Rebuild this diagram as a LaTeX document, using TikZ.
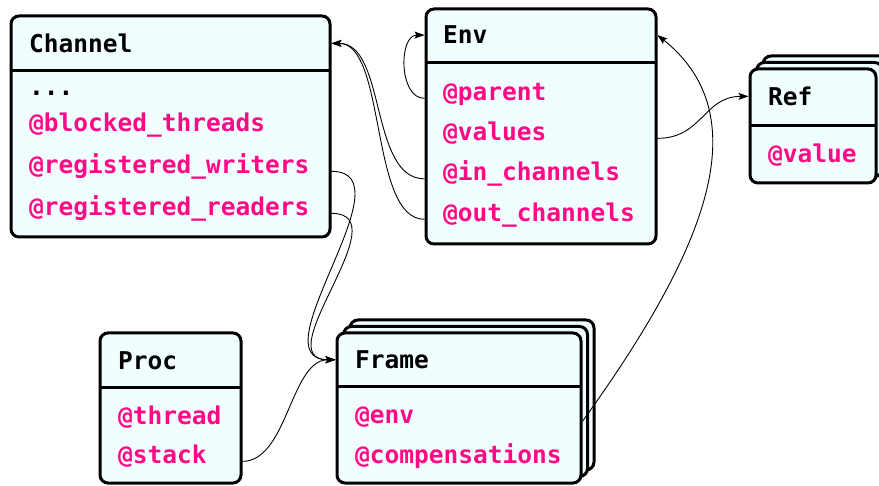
\documentclass[tikz,border=0pt]{standalone}
\usepackage{fontspec}
\setmonofont{DejaVu Sans Mono}
\usetikzlibrary{arrows.meta}
\definecolor{boxfill}{HTML}{F0FEFF}
\definecolor{fieldpink}{HTML}{FF0A84}
\begin{document}
\begin{tikzpicture}[x=1pt,y=-1pt,
  umlbox/.style={draw=black, line width=3pt, fill=boxfill, rounded corners=8pt, inner sep=0pt},
  divider/.style={line width=3pt},
  title/.style={anchor=base west, inner sep=0pt, font=\ttfamily\bfseries\fontsize{24.5}{29}\selectfont, text=black},
  field/.style={title, text=fieldpink},
  link/.style={line width=0.9pt, -{Stealth[length=10pt,width=7pt,inset=2pt]}},
]
\useasboundingbox (0,0) rectangle (879,486);
\clip (0,0) rectangle (879,486);

% Channel
\node[umlbox, minimum width=319pt, minimum height=221pt] (chan) at (170.5,126.5) {};
\draw[divider] (11,71) -- (330,71);
\node[title] (chantitle) at (29,52.5) {Channel};
\node[title] (chandots) at (29,96) {...};
\node[field] (chanblocked) at (29,132) {@blocked\_threads};
\node[field] (chanwriters) at (29,173.5) {@registered\_writers};
\node[field] (chanreaders) at (29,215.5) {@registered\_readers};

% Env
\node[umlbox, minimum width=230pt, minimum height=235pt] (env) at (541,126.5) {};
\draw[divider] (426,63) -- (656,63);
\node[title] (envtitle) at (443,44) {Env};
\node[field] (envparent) at (443,100.5) {@parent};
\node[field] (envvalues) at (443,140.5) {@values};
\node[field] (envin) at (443,181) {@in\_channels};
\node[field] (envout) at (443,221.5) {@out\_channels};

% Ref (stacked)
\node[umlbox, minimum width=126pt, minimum height=114pt] (refbb) at (826,113) {};
\node[umlbox, minimum width=126pt, minimum height=114pt] (refb) at (819.5,119.5) {};
\node[umlbox, minimum width=126pt, minimum height=114pt] (ref) at (813,126) {};
\draw[divider] (750,126) -- (876,126);
\node[title] (reftitle) at (768,105.5) {Ref};
\node[field] (refvalue) at (768,162.5) {@value};

% Proc
\node[umlbox, minimum width=141pt, minimum height=150pt] (proc) at (170.5,408) {};
\draw[divider] (100,388) -- (241,388);
\node[title] (proctitle) at (118,369.5) {Proc};
\node[field] (procthread) at (118,424.5) {@thread};
\node[field] (procstack) at (118,463.5) {@stack};

% Frame (stacked)
\node[umlbox, minimum width=244pt, minimum height=150pt] (framebb) at (472,395) {};
\node[umlbox, minimum width=244pt, minimum height=150pt] (frameb) at (465.5,401.5) {};
\node[umlbox, minimum width=244pt, minimum height=150pt] (frame) at (459,408) {};
\draw[divider] (337,387) -- (581,387);
\node[title] (frametitle) at (355,368.5) {Frame};
\node[field] (frameenv) at (355,423.5) {@env};
\node[field] (framecomp) at (355,463.5) {@compensations};

% Connectors
\draw[link] (envparent.mid -| env.west) .. controls +(-26,0) and +(-26,0) .. (envtitle.center -| env.west);
\draw[link] (envvalues.mid -| env.east) .. controls +(45,0) and +(-45,0) .. (reftitle.center -| ref.west);
\draw[link] (envin.mid -| env.west) .. controls +(-55,0) and +(55,0) .. (chantitle.center -| chan.east);
\draw[link] (envout.mid -| env.west) .. controls +(-55,0) and +(55,0) .. (chantitle.center -| chan.east);
\draw[link] (chanwriters.mid -| chan.east) .. controls +(80,0) and +(-80,0) .. (frametitle.center -| frame.west);
\draw[link] (chanreaders.mid -| chan.east) .. controls +(70,0) and +(-70,0) .. (frametitle.center -| frame.west);
\draw[link] (procstack.mid -| proc.east) .. controls +(45,0) and +(-45,0) .. (frametitle.center -| frame.west);
\draw[link] (frameenv.mid -| frame.east) .. controls +(118,-164) and +(105,84) .. (envtitle.center -| env.east);
\end{tikzpicture}
\end{document}
